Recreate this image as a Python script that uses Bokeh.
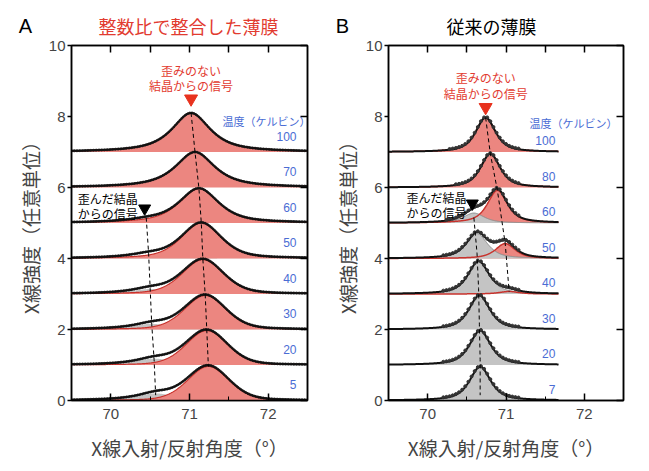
import numpy as np
from bokeh.plotting import figure
from bokeh.layouts import row, column
from bokeh.models import Range1d, LinearAxis, FixedTicker, Label
from bokeh.embed import file_html
from bokeh.resources import INLINE

# ---------------- data ----------------
# Panel A: integer-ratio matched film
A_temps = ["100", "70", "60", "50", "40", "30", "20", "5"]
A_offset = [7, 6, 5, 4, 3, 2, 1, 0]
A_main_pos = [71.02, 71.07, 71.12, 71.15, 71.17, 71.20, 71.22, 71.24]
A_main_amp = [1.10, 1.00, 0.97, 1.00, 0.97, 0.96, 0.97, 0.96]
A_main_hwhm = [0.29, 0.30, 0.30, 0.30, 0.31, 0.31, 0.31, 0.31]
A_main_eta = [0.85, 0.85, 0.70, 0.50, 0.35, 0.30, 0.25, 0.25]
A_strain_pos = [70.40, 70.42, 70.45, 70.48, 70.50, 70.52, 70.55, 70.57]
A_strain_amp = [0.00, 0.00, 0.06, 0.10, 0.14, 0.16, 0.18, 0.20]
A_strain_hwhm = [0.30, 0.30, 0.30, 0.30, 0.30, 0.30, 0.30, 0.30]
A_xmax = 72.5

# Panel B: conventional film
B_temps = ["100", "80", "60", "50", "40", "30", "20", "7"]
B_offset = [7, 6, 5, 4, 3, 2, 1, 0]
B_red_pos = [70.74, 70.80, 70.89, 70.99, 71.04, 71.05, 71.05, 71.05]
B_red_amp = [0.97, 0.95, 0.92, 0.42, 0.07, 0.00, 0.00, 0.00]
B_gray_pos = [70.60, 70.60, 70.59, 70.63, 70.65, 70.66, 70.67, 70.67]
B_gray_amp = [0.00, 0.00, 0.28, 0.70, 0.92, 0.96, 0.97, 0.95]
B_hwhm = 0.15
B_eta = 0.7
B_xmax = 71.67

X_RANGE = (69.5, 72.5)
Y_RANGE = (0, 10)
Y_TICKS = [0, 2, 4, 6, 8, 10]
X_TICKS = [70, 71, 72]
X_MINOR = [69.5, 70.5, 71.5, 72.5]

RED_FILL = "#ec8680"
RED_LINE = "#c8322c"
GRAY_FILL = "#c4c4c4"
BLUE = "#4a6cd4"
TITLE_RED = "#e23b30"
JP = "Noto Sans CJK JP"
NUM = "Liberation Sans"


def pvoigt(x, c, a, w, eta):
    lor = 1.0 / (1.0 + ((x - c) / w) ** 2)
    gau = np.exp(-np.log(2) * ((x - c) / w) ** 2)
    return a * (eta * lor + (1 - eta) * gau)


def hidden_labels(ax):
    ax.major_label_text_color = None
    ax.major_label_text_font_size = "0px"
    ax.major_label_standoff = 0


def make_fig(width, left, right):
    p = figure(width=width, height=426, x_range=Range1d(*X_RANGE), y_range=Range1d(*Y_RANGE),
               output_backend="svg", toolbar_location=None,
               x_axis_location=None, y_axis_location=None,
               min_border_left=left, min_border_right=right,
               min_border_top=8, min_border_bottom=63)
    p.grid.visible = False
    p.outline_line_color = "black"
    p.outline_line_width = 1.5
    p.background_fill_color = "white"
    p.border_fill_color = "white"

    yax = LinearAxis(ticker=FixedTicker(ticks=Y_TICKS),
                     axis_label="X線強度（任意単位）")
    yax.major_tick_in = 0
    yax.major_tick_out = 4
    yax.minor_tick_line_color = None
    yax.major_label_text_font = NUM
    yax.major_label_text_font_size = "15px"
    yax.major_label_standoff = 2
    yax.axis_label_text_font = JP
    yax.axis_label_text_font_size = "19px"
    yax.axis_label_text_font_style = "normal"
    yax.axis_label_standoff = 2
    yax.axis_line_width = 1.5
    yax.major_tick_line_width = 1.5
    p.add_layout(yax, "left")

    xax = LinearAxis(ticker=FixedTicker(ticks=X_TICKS, minor_ticks=X_MINOR),
                     axis_label="X線入射/反射角度（°）")
    xax.major_tick_in = 7
    xax.major_tick_out = 0
    xax.minor_tick_in = 4
    xax.minor_tick_out = 0
    xax.major_label_text_font = NUM
    xax.major_label_text_font_size = "15px"
    xax.major_label_standoff = 8
    xax.axis_label_text_font = JP
    xax.axis_label_text_font_size = "19px"
    xax.axis_label_text_font_style = "normal"
    xax.axis_label_standoff = 12
    xax.axis_line_width = 1.5
    xax.major_tick_line_width = 1.5
    p.add_layout(xax, "below")

    tax = LinearAxis(ticker=FixedTicker(ticks=X_TICKS + [70.5, 71.5]))
    tax.major_tick_in = 7
    tax.major_tick_out = 0
    tax.minor_tick_line_color = None
    hidden_labels(tax)
    tax.axis_line_width = 1.5
    tax.major_tick_line_width = 1.5
    p.add_layout(tax, "above")

    rax = LinearAxis(ticker=FixedTicker(ticks=Y_TICKS))
    rax.major_tick_in = 7
    rax.major_tick_out = 0
    rax.minor_tick_line_color = None
    hidden_labels(rax)
    rax.axis_line_width = 1.5
    rax.major_tick_line_width = 1.5
    p.add_layout(rax, "right")
    return p


def label(p, x, y, text, color="black", size="12px", font=JP, align="center", baseline="middle"):
    p.add_layout(Label(x=x, y=y, text=text, text_color=color, text_font_size=size,
                       text_font=font, text_align=align, text_baseline=baseline))


# ---------------- header with panel letters and titles ----------------
W_A, W_B = 328, 313
head = figure(width=W_A + W_B, height=37, x_range=Range1d(0, W_A + W_B), y_range=Range1d(0, 37),
              output_backend="svg", toolbar_location=None,
              x_axis_location=None, y_axis_location=None, min_border=0)
head.grid.visible = False
head.outline_line_color = None
label(head, 25, 12, "A", size="20px", font=NUM)
label(head, 188, 12, "整数比で整合した薄膜", color=TITLE_RED, size="18px")
label(head, 342, 12, "B", size="20px", font=NUM)
label(head, 491, 12, "従来の薄膜", size="18px")

# ---------------- Panel A ----------------
pa = make_fig(W_A, 71, 21)
xa = np.linspace(X_RANGE[0], A_xmax, 600)
xda = np.arange(X_RANGE[0], A_xmax, 0.02)
for i in range(len(A_temps)):
    off = A_offset[i]
    g = pvoigt(xa, A_strain_pos[i], A_strain_amp[i], A_strain_hwhm[i], 1.0)
    r = pvoigt(xa, A_main_pos[i], A_main_amp[i], A_main_hwhm[i], A_main_eta[i])
    if A_strain_amp[i] > 0:
        pa.varea(x=xa, y1=off, y2=off + g, fill_color=GRAY_FILL)
    pa.varea(x=xa, y1=off, y2=off + r, fill_color=RED_FILL)
    pa.line(xa, off + r, line_color=RED_LINE, line_width=1.2)
    tot = off + g + r
    pa.line(xa, tot, line_color="#333333", line_width=0.9)
    gd = pvoigt(xda, A_strain_pos[i], A_strain_amp[i], A_strain_hwhm[i], 1.0)
    rd = pvoigt(xda, A_main_pos[i], A_main_amp[i], A_main_hwhm[i], A_main_eta[i])
    pa.scatter(xda, off + gd + rd, size=1.9, color="#111111")
    label(pa, 72.36, off + 0.45, A_temps[i], color=BLUE, size="12px", font=NUM, align="right")

# guide lines
a_top = [A_offset[i] + A_main_amp[i] for i in range(len(A_temps))]
pa.line(A_main_pos, a_top, line_color="black", line_dash="4 3", line_width=1)
a_sx = A_strain_pos[2:]
a_sy = [o + 0.15 for o in A_offset[2:]]
pa.line(a_sx, a_sy, line_color="black", line_dash="4 3", line_width=1)
pa.scatter([A_main_pos[0]], [8.50], marker="inverted_triangle", size=13, color="#e8321e")
pa.scatter([70.43], [5.41], marker="inverted_triangle", size=12, color="black")

label(pa, A_main_pos[0], 9.30, "歪みのない", color=TITLE_RED)
label(pa, A_main_pos[0], 8.87, "結晶からの信号", color=TITLE_RED)
label(pa, 71.42, 7.86, "温度（ケルビン）", color=BLUE, size="11px", align="left")
label(pa, 69.58, 5.69, "歪んだ結晶", align="left")
label(pa, 69.58, 5.27, "からの信号", align="left")

# ---------------- Panel B ----------------
pb = make_fig(W_B, 60, 18)
xb = np.linspace(X_RANGE[0], B_xmax, 500)
xdb = np.arange(70.2, 71.2, 0.04)
for i in range(len(B_temps)):
    off = B_offset[i]
    r = pvoigt(xb, B_red_pos[i], B_red_amp[i], B_hwhm, B_eta)
    g = pvoigt(xb, B_gray_pos[i], B_gray_amp[i], B_hwhm + 0.01, B_eta)
    if B_red_amp[i] > 0:
        pb.varea(x=xb, y1=off, y2=off + r, fill_color=RED_FILL)
    if B_gray_amp[i] > 0:
        pb.varea(x=xb, y1=off, y2=off + g, fill_color=GRAY_FILL)
        pb.line(xb, off + g, line_color="#8a8a8a", line_width=1)
    if B_red_amp[i] > 0:
        pb.line(xb, off + r, line_color=RED_LINE, line_width=1.5)
    tot = off + r + g
    pb.line(xb, tot, line_color="#111111", line_width=2)
    rd = pvoigt(xdb, B_red_pos[i], B_red_amp[i], B_hwhm, B_eta)
    gd = pvoigt(xdb, B_gray_pos[i], B_gray_amp[i], B_hwhm + 0.01, B_eta)
    td = rd + gd
    keep = td > 0.06
    pb.scatter(xdb[keep], off + td[keep] + 0.02, size=3.0, color="#333333")
    label(pb, 71.63, off + 0.32, B_temps[i], color=BLUE, size="12px", font=NUM, align="right")

b_rx = B_red_pos[:5]
b_ry = [B_offset[i] + B_red_amp[i] for i in range(5)]
pb.line(b_rx, b_ry, line_color="black", line_dash="4 3", line_width=1)
b_gx = B_gray_pos[2:]
b_gy = [o + 0.15 for o in B_offset[2:]]
pb.line(b_gx, b_gy, line_color="black", line_dash="4 3", line_width=1)
pb.scatter([B_red_pos[0]], [8.26], marker="inverted_triangle", size=13, color="#e8321e")
pb.scatter([70.57], [5.55], marker="inverted_triangle", size=12, color="black")

label(pb, B_red_pos[0], 9.10, "歪みのない", color=TITLE_RED)
label(pb, B_red_pos[0], 8.65, "結晶からの信号", color=TITLE_RED)
label(pb, 71.30, 7.83, "温度（ケルビン）", color=BLUE, size="11px", align="left")
label(pb, 69.73, 5.72, "歪んだ結晶", align="left")
label(pb, 69.73, 5.30, "からの信号", align="left")

layout = column(head, row(pa, pb))
open("out.html", "w").write(file_html(layout, INLINE))
